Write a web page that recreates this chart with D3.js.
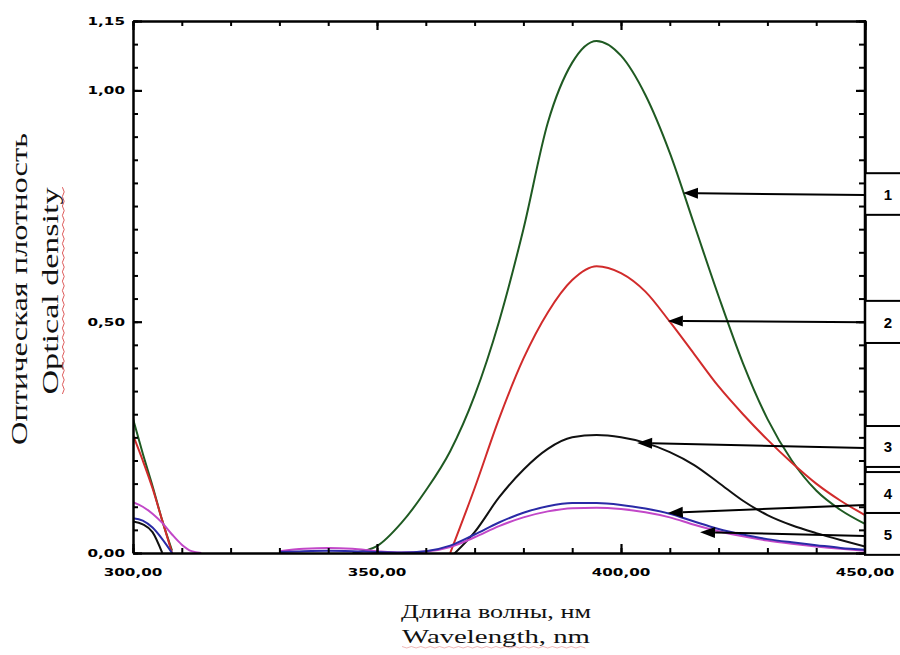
<!DOCTYPE html>
<html><head><meta charset="utf-8">
<script src="https://cdn.jsdelivr.net/npm/d3@7"></script>
<style>body{margin:0;background:#fff}svg{display:block}</style>
</head><body>
<svg id="c" width="900" height="655"></svg>
<script>
// ---------- data ----------
const wavelengthsLeft = [300, 302, 304, 306, 308, 310, 312, 314];
const wavelengthsMain = [330, 335, 340, 345, 350, 355, 360, 365, 370, 375, 380, 385, 390, 395, 400, 405, 410, 415, 420, 425, 430, 435, 440, 445, 450];

const curve1Left = [0.29, 0.215, 0.145, 0.07, 0.005, null, null, null];
const curve1Main = [null, null, null, 0.0, 0.015, 0.065, 0.135, 0.22, 0.34, 0.50, 0.70, 0.93, 1.06, 1.107, 1.075, 0.99, 0.865, 0.71, 0.555, 0.41, 0.29, 0.20, 0.135, 0.093, 0.063];
const curve2Left = [0.255, 0.2, 0.14, 0.07, 0.0, null, null, null];
const curve2Main = [null, null, null, null, null, null, null, 0.0, 0.14, 0.29, 0.42, 0.52, 0.59, 0.62, 0.605, 0.565, 0.50, 0.43, 0.36, 0.30, 0.245, 0.195, 0.15, 0.113, 0.082];
const curve3Left = [0.068, 0.062, 0.045, 0.0, null, null, null, null];
const curve3Main = [null, null, null, null, null, null, null, -0.01, 0.045, 0.12, 0.18, 0.225, 0.25, 0.255, 0.25, 0.238, 0.218, 0.19, 0.152, 0.113, 0.082, 0.06, 0.043, 0.028, 0.014];
const curve4Left = [0.075, 0.07, 0.055, 0.03, 0.0, null, null, null];
const curve4Main = [0.002, 0.004, 0.005, 0.004, 0.002, 0.001, 0.004, 0.016, 0.04, 0.066, 0.087, 0.101, 0.108, 0.108, 0.104, 0.096, 0.085, 0.068, 0.052, 0.04, 0.03, 0.023, 0.017, 0.011, 0.007];
const curve5Left = [0.11, 0.10, 0.085, 0.065, 0.04, 0.018, 0.004, 0.0];
const curve5Main = [0.004, 0.009, 0.011, 0.009, 0.004, 0.001, 0.003, 0.013, 0.034, 0.058, 0.077, 0.09, 0.097, 0.098, 0.095, 0.088, 0.077, 0.061, 0.047, 0.036, 0.027, 0.02, 0.014, 0.009, 0.005];

const curveLabels = ["1", "2", "3", "4", "5"];
const curveColors = ["#1f5a22", "#d12b2b", "#111111", "#2a2aa6", "#c247c8"];
// arrow annotations in data units: tip (nm, value), tail value at right edge
const arrowTipNm = [412.7, 409.6, 403.3, 409.6, 416.2];
const arrowTipValue = [0.778, 0.5015, 0.238, 0.0865, 0.045];
const arrowTailValue = [0.774, 0.499, 0.227, 0.104, 0.037];
// label boxes (value range, top/bottom)
const boxTop = [0.821, 0.545, 0.2745, 0.175, 0.0865];
const boxBottom = [0.731, 0.454, 0.186, 0.0865, -0.004];

const xTickLabels = ["300,00", "350,00", "400,00", "450,00"];
const xTickValues = [300, 350, 400, 450];
const yTickLabels = ["0,00", "0,50", "1,00", "1,15"];
const yTickValues = [0, 0.5, 1.0, 1.15];

// ---------- layout ----------
const L = 133, R = 865, T = 21, B = 553;
const svg = d3.select("#c");
const x = d3.scaleLinear().domain([300, 450]).range([L, R]);
const y = d3.scaleLinear().domain([0, 1.15]).range([B, T]);

svg.append("defs").append("clipPath").attr("id", "plot")
  .append("rect").attr("x", L).attr("y", T).attr("width", R - L).attr("height", B - T);

// curves
const line = d3.line().defined(d => d[1] !== null)
  .x(d => x(d[0])).y(d => y(d[1])).curve(d3.curveMonotoneX);
const lefts = [curve1Left, curve2Left, curve3Left, curve4Left, curve5Left];
const mains = [curve1Main, curve2Main, curve3Main, curve4Main, curve5Main];
const order = [0, 1, 2, 4, 3];
const gC = svg.append("g").attr("clip-path", "url(#plot)");
order.forEach(i => {
  const segL = wavelengthsLeft.map((w, k) => [w, lefts[i][k]]);
  const segM = wavelengthsMain.map((w, k) => [w, mains[i][k]]);
  [segL, segM].forEach(seg => {
    gC.append("path").attr("d", line(seg)).attr("fill", "none")
      .attr("stroke", curveColors[i]).attr("stroke-width", 2).attr("stroke-linejoin", "round");
  });
});

// axes (ticks pointing inward)
const axW = 2.5;
const minorX = d3.range(300, 451, 10);
const minorY = d3.range(0, 1.151, 0.05);
const axBottom = d3.axisBottom(x).tickValues(minorX).tickSizeInner(-5).tickSizeOuter(0).tickFormat("");
const axTop = d3.axisTop(x).tickValues(minorX).tickSizeInner(-5).tickSizeOuter(0).tickFormat("");
const axLeft = d3.axisLeft(y).tickValues(minorY).tickSizeInner(-5).tickSizeOuter(0).tickFormat("");
const axRight = d3.axisRight(y).tickValues(minorY).tickSizeInner(-6).tickSizeOuter(0).tickFormat("");
[[axBottom, `translate(0,${B})`], [axTop, `translate(0,${T})`], [axLeft, `translate(${L},0)`], [axRight, `translate(${R},0)`]].forEach(([ax, tr]) => {
  const g = svg.append("g").attr("transform", tr).call(ax);
  g.select(".domain").attr("stroke", "#000").attr("stroke-width", axW);
  g.selectAll(".tick line").attr("stroke", "#000").attr("stroke-width", 2);
});
// major ticks
function major(axis, tr) {
  svg.append("g").attr("transform", tr)
    .call(axis.tickSizeInner(-9).tickSizeOuter(0).tickFormat(""))
    .call(g => { g.select(".domain").remove(); g.selectAll("line").attr("stroke", "#000").attr("stroke-width", 2.2); });
}
major(d3.axisBottom(x).tickValues(xTickValues), `translate(0,${B})`);
major(d3.axisTop(x).tickValues(xTickValues), `translate(0,${T})`);
major(d3.axisLeft(y).tickValues(yTickValues), `translate(${L},0)`);
major(d3.axisRight(y).tickValues(yTickValues), `translate(${R},0)`);

// tick labels (wide bold)
const tickFont = "'DejaVu Sans', sans-serif";
xTickValues.forEach((v, i) => {
  svg.append("g").attr("transform", `translate(${x(v)},${B + 23})`)
    .append("text").attr("transform", "scale(1.38,1)").attr("text-anchor", "middle")
    .attr("font-family", tickFont).attr("font-weight", "bold").attr("font-size", 11)
    .text(xTickLabels[i]);
});
yTickValues.forEach((v, i) => {
  svg.append("g").attr("transform", `translate(${L - 8},${y(v) + 4})`)
    .append("text").attr("transform", "scale(1.38,1)").attr("text-anchor", "end")
    .attr("font-family", tickFont).attr("font-weight", "bold").attr("font-size", 11)
    .text(yTickLabels[i]);
});

// label boxes and arrows
curveLabels.forEach((lab, i) => {
  svg.append("rect").attr("x", R).attr("y", y(boxTop[i])).attr("width", 60)
    .attr("height", y(boxBottom[i]) - y(boxTop[i])).attr("fill", "#fff")
    .attr("stroke", "#000").attr("stroke-width", 2);
  svg.append("text").attr("x", R + 23).attr("y", (y(boxTop[i]) + y(boxBottom[i])) / 2 + 6)
    .attr("text-anchor", "middle").attr("font-family", "'Liberation Sans', Arial, sans-serif")
    .attr("font-weight", "bold").attr("font-size", 15).text(lab);
  const tx = x(arrowTipNm[i]), ty = y(arrowTipValue[i]);
  const sx = R, sy = y(arrowTailValue[i]);
  const ang = Math.atan2(sy - ty, sx - tx);
  const hl = 15, hw = 5.5;
  const bx = tx + hl * Math.cos(ang), by = ty + hl * Math.sin(ang);
  svg.append("line").attr("x1", sx).attr("y1", sy).attr("x2", bx).attr("y2", by)
    .attr("stroke", "#000").attr("stroke-width", 2);
  const px = -Math.sin(ang), py = Math.cos(ang);
  svg.append("path").attr("d", `M${tx},${ty}L${bx + hw * px},${by + hw * py}L${bx - hw * px},${by - hw * py}Z`)
    .attr("fill", "#000");
});
// redraw right axis line over boxes
svg.append("line").attr("x1", R).attr("x2", R).attr("y1", T - 1).attr("y2", B + 1)
  .attr("stroke", "#000").attr("stroke-width", axW);

// axis titles
const serif = "'Liberation Serif', 'Times New Roman', serif";
function fitText(sel, target) {
  const w = sel.node().getComputedTextLength();
  return target / w;
}
// x title
const xt1 = svg.append("g").attr("transform", `translate(496,618)`);
const t1 = xt1.append("text").attr("text-anchor", "middle").attr("font-family", serif).attr("font-size", 19).attr("fill", "#111").text("Длина волны, нм");
t1.attr("transform", `scale(${fitText(t1, 190)},1)`);
const xt2 = svg.append("g").attr("transform", `translate(496,643)`);
const t2 = xt2.append("text").attr("text-anchor", "middle").attr("font-family", serif).attr("font-size", 19).attr("fill", "#111").text("Wavelength, nm");
t2.attr("transform", `scale(${fitText(t2, 188)},1)`);
xt2.append("path").attr("d", d3.range(0, 40).map((k, j) => `${j ? "L" : "M"}${-94 + k * 4.7},${4 + (k % 2 ? 1 : -0.5)}`).join(""))
  .attr("stroke", "#e06a6a").attr("stroke-width", 0.8).attr("fill", "none").attr("opacity", 0.6);
// y title
const yt1 = svg.append("g").attr("transform", `translate(27,289) rotate(-90)`);
const u1 = yt1.append("text").attr("text-anchor", "middle").attr("font-family", serif).attr("font-size", 23).attr("fill", "#111").text("Оптическая плотность");
u1.attr("transform", `scale(${fitText(u1, 312)},1)`);
const yt2 = svg.append("g").attr("transform", `translate(58,291) rotate(-90)`);
const u2 = yt2.append("text").attr("text-anchor", "middle").attr("font-family", serif).attr("font-size", 23).attr("fill", "#111").text("Optical density");
u2.attr("transform", `scale(${fitText(u2, 207)},1)`);
yt2.append("path").attr("d", d3.range(0, 45).map((k, j) => `${j ? "L" : "M"}${-103 + k * 4.7},${5 + (k % 2 ? 1.2 : -0.6)}`).join(""))
  .attr("stroke", "#d94a4a").attr("stroke-width", 0.9).attr("fill", "none");
</script>
</body></html>
